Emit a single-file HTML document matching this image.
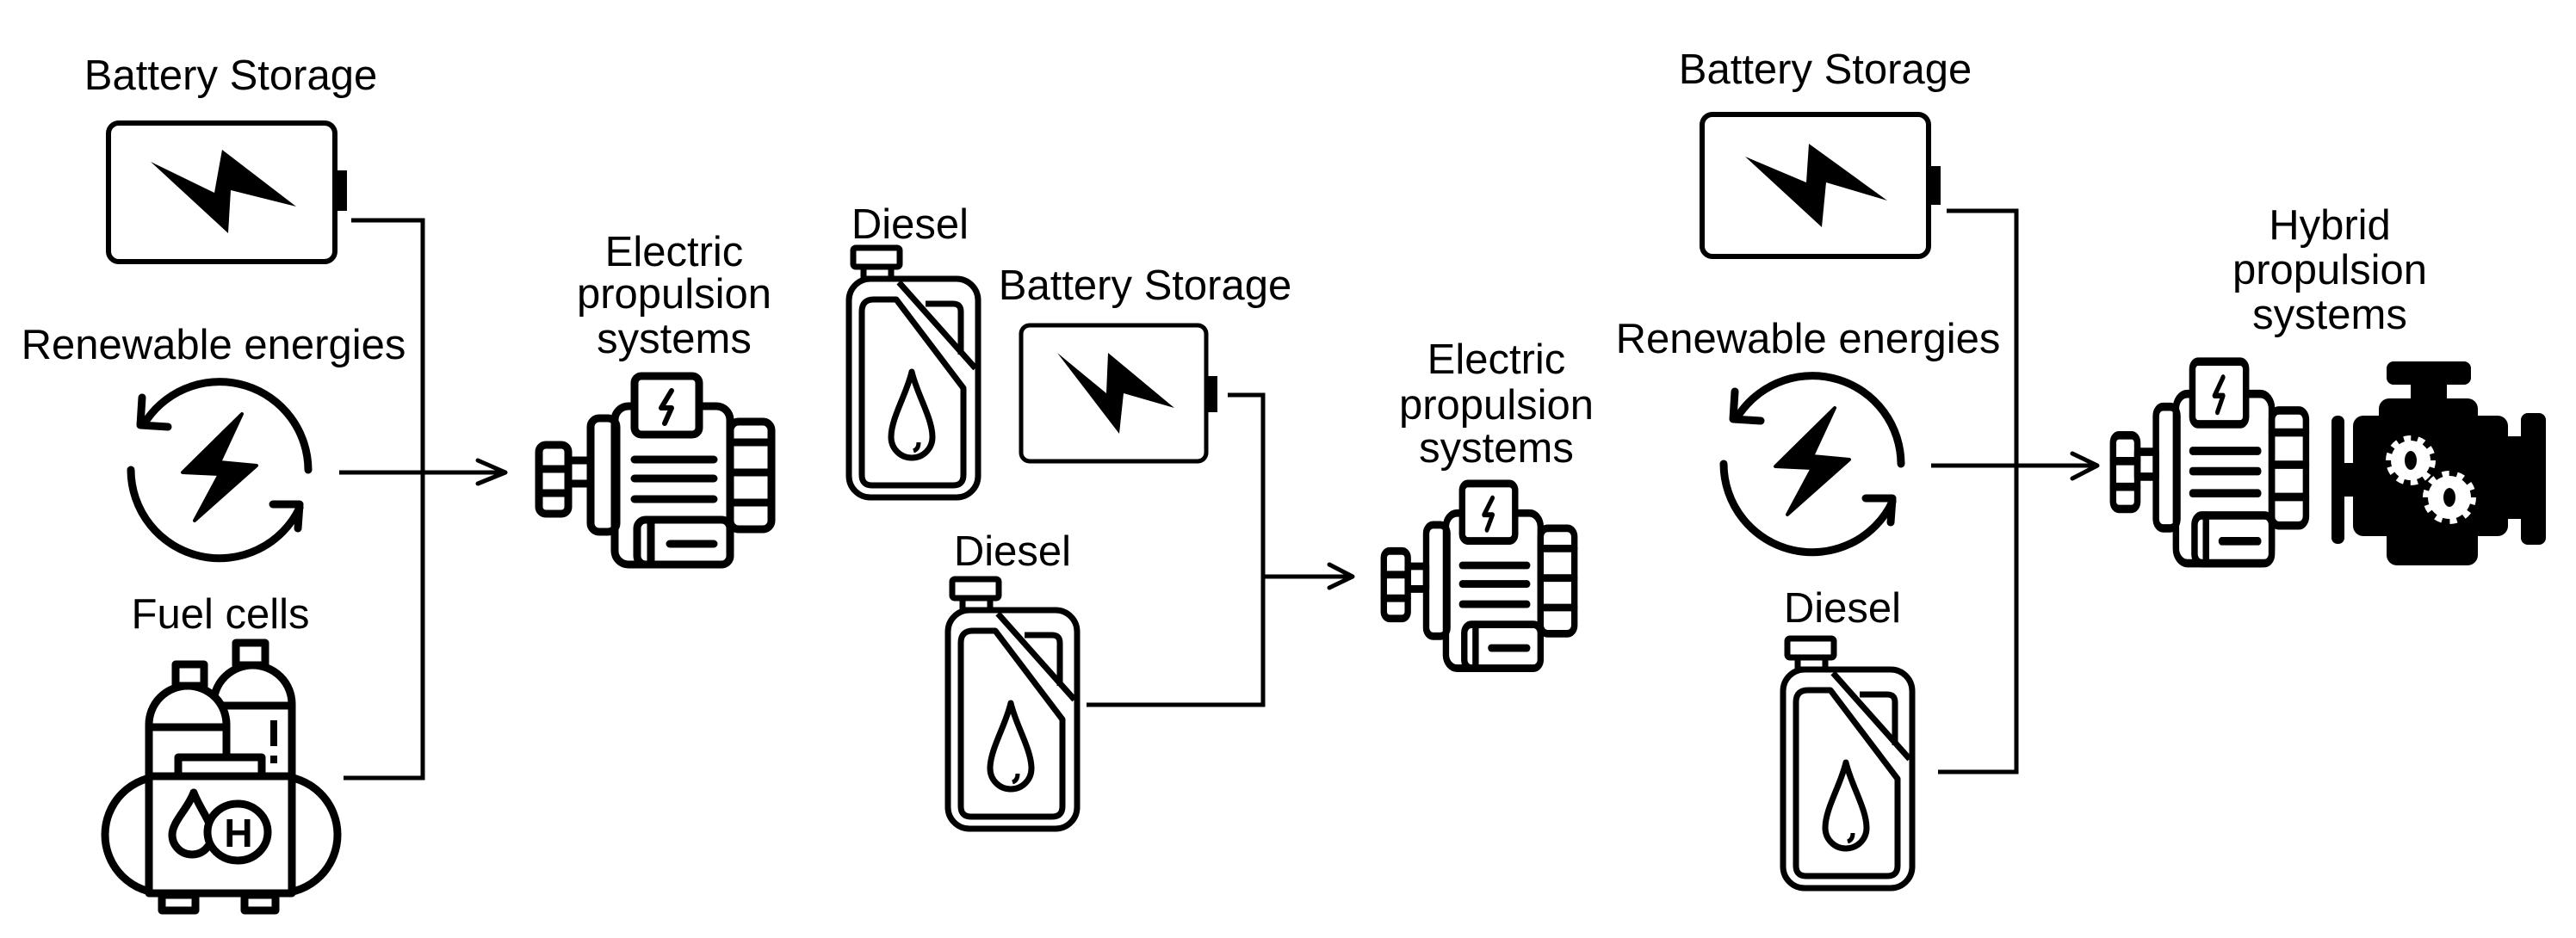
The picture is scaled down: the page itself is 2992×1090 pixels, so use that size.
<!DOCTYPE html>
<html><head><meta charset="utf-8"><style>
html,body{margin:0;padding:0;background:#fff;}
svg{display:block;}
text{font-family:"Liberation Sans",Arial,sans-serif;font-size:49px;fill:#000;text-anchor:middle;}
</style></head><body>
<svg width="2992" height="1090" viewBox="0 0 2992 1090" xmlns="http://www.w3.org/2000/svg">
<defs>
<g id="motor" fill="none" stroke="#000" stroke-width="9" stroke-linejoin="round" stroke-linecap="round">
  <rect x="4" y="83" width="34" height="80" rx="8"/>
  <line x1="4" y1="111" x2="38" y2="111"/><line x1="4" y1="139" x2="38" y2="139"/>
  <rect x="38" y="101" width="26" height="27"/>
  <rect x="64" y="52" width="30" height="132" rx="10"/>
  <rect x="226" y="56" width="48" height="125" rx="10"/>
  <line x1="226" y1="80" x2="274" y2="80"/><line x1="226" y1="115" x2="274" y2="115"/><line x1="226" y1="150" x2="274" y2="150"/>
  <rect x="92" y="38" width="134" height="184" rx="16"/>
  <rect x="115" y="3" width="75" height="68" rx="8" fill="#fff"/>
  <path d="M158 20 L146 40 L158 40 L150 58" stroke-width="6"/>
  <line x1="115" y1="100" x2="207" y2="100"/><line x1="115" y1="122" x2="207" y2="122"/><line x1="115" y1="146" x2="207" y2="146"/>
  <rect x="118" y="170" width="108" height="52" rx="10" fill="#fff"/>
  <line x1="134" y1="170" x2="134" y2="222"/>
  <line x1="156" y1="198" x2="207" y2="198"/>
</g>
<g id="can" fill="none" stroke="#000" stroke-width="7" stroke-linejoin="round">
  <rect x="8" y="2" width="54" height="22" rx="3"/>
  <rect x="20" y="24" width="32" height="14"/>
  <rect x="3" y="38" width="150" height="254" rx="25"/>
  <path d="M18 76 L18 266 Q18 278 30 278 L124 278 Q136 278 136 266 L136 165 L58 62 L32 62 Q18 62 18 76 Z"/>
  <line x1="61" y1="42" x2="150" y2="142"/>
  <path d="M92 67 L124 67 Q133 67 133 76 L133 126"/>
  <path d="M76 146 C70 172 52 200 52 222 A24 24 0 0 0 100 222 C100 200 82 172 76 146 Z"/>
  <path d="M84 228 Q84 236 78 238" stroke-width="5"/>
</g>
<g id="renew">
  <g fill="none" stroke="#000" stroke-width="9" stroke-linecap="round" stroke-linejoin="round">
    <path d="M103 0 A103 103 0 0 0 -84 -59"/>
    <polyline points="-90,-84 -92,-52 -60,-50"/>
    <path d="M-103 0 A103 103 0 0 0 93 44"/>
    <polyline points="62,40 93,40 91,68"/>
  </g>
  <polygon points="26,-65 -43,3 0,5 -29,59 43,-5 0,-9" fill="#000" stroke="#000" stroke-width="4" stroke-linejoin="round"/>
</g>
</defs>

<!-- Panel 1 -->
<text x="268" y="104">Battery Storage</text>
<rect x="126" y="143" width="263" height="161" rx="12" fill="none" stroke="#000" stroke-width="6"/>
<rect x="389" y="198" width="14" height="47" fill="#000"/>
<polygon points="175,188 249,224 258,174 344,240 268,221 265,271" fill="#000"/>
<text x="248" y="417">Renewable energies</text>
<use href="#renew" transform="translate(255,546)"/>
<text x="256" y="730">Fuel cells</text>
<g fill="none" stroke="#000" stroke-width="9" stroke-linejoin="round">
  <rect x="122" y="902" width="270" height="136" rx="68" fill="#fff"/>
  <path d="M248 880 L248 818 A45.5 45 0 0 1 339 818 L339 902"/>
  <rect x="274" y="747" width="34" height="26"/>
  <line x1="248" y1="820" x2="339" y2="820"/>
  <path d="M173 902 L173 842 A45 45 0 0 1 263 842 L263 880" fill="#fff"/>
  <rect x="204" y="772" width="33" height="25"/>
  <line x1="173" y1="845" x2="263" y2="845"/>
  <rect x="173" y="902" width="166" height="136" fill="#fff"/>
  <rect x="207" y="880" width="97" height="22" fill="#fff"/>
  <rect x="188" y="1040" width="39" height="18"/><rect x="284" y="1040" width="36" height="18"/>
  <path d="M225 921 C218 940 200 955 200 970 A21 21 0 0 0 246 970 C246 955 232 940 225 921 Z"/>
  <ellipse cx="276" cy="967" rx="35" ry="33" fill="#fff"/>
</g>
<line x1="318" y1="837" x2="318" y2="867" stroke="#000" stroke-width="8"/>
<rect x="314" y="878" width="8" height="9" fill="#000"/>
<text x="277" y="984" style="font-size:46px;font-weight:bold">H</text>
<g fill="none" stroke="#000" stroke-width="5">
  <polyline points="408,256 491,256 491,904 399,904"/>
  <line x1="394" y1="549" x2="585" y2="549"/>
  <polyline points="555,535 587,549 555,562" stroke-linejoin="round" stroke-linecap="round"/>
</g>
<text x="783" y="309">Electric</text>
<text x="783" y="358">propulsion</text>
<text x="783" y="410">systems</text>
<use href="#motor" transform="translate(622,434)"/>

<!-- Panel 2 -->
<text x="1057" y="277">Diesel</text>
<use href="#can" transform="translate(983,286)"/>
<text x="1330" y="348">Battery Storage</text>
<rect x="1186" y="378" width="215" height="158" rx="10" fill="none" stroke="#000" stroke-width="5"/>
<rect x="1401" y="437" width="13" height="42" fill="#000"/>
<polygon points="1228,410 1285,457 1287,410 1364,474 1305,457 1300,504" fill="#000"/>
<text x="1176" y="657">Diesel</text>
<use href="#can" transform="translate(1098,671)"/>
<g fill="none" stroke="#000" stroke-width="5">
  <polyline points="1426,459 1467,459 1467,819 1262,819"/>
  <line x1="1467" y1="670" x2="1569" y2="670"/>
  <polyline points="1544,656 1571,670 1544,683" stroke-linejoin="round" stroke-linecap="round"/>
</g>
<text x="1738" y="434">Electric</text>
<text x="1738" y="487">propulsion</text>
<text x="1738" y="537">systems</text>
<use href="#motor" transform="translate(1604,559) scale(0.82,0.98)"/>

<!-- Panel 3 -->
<text x="2120" y="97">Battery Storage</text>
<rect x="1977" y="133" width="263" height="165" rx="12" fill="none" stroke="#000" stroke-width="6"/>
<rect x="2240" y="193" width="14" height="45" fill="#000"/>
<polygon points="2027,182 2098,212 2101,167 2192,233 2121,212 2116,264" fill="#000"/>
<text x="2100" y="410">Renewable energies</text>
<use href="#renew" transform="translate(2105,539)"/>
<text x="2140" y="723">Diesel</text>
<use href="#can" transform="translate(2068,740)"/>
<g fill="none" stroke="#000" stroke-width="5">
  <polyline points="2261,245 2342,245 2342,897 2251,897"/>
  <line x1="2243" y1="541" x2="2434" y2="541"/>
  <polyline points="2407,527 2436,541 2407,556" stroke-linejoin="round" stroke-linecap="round"/>
</g>
<text x="2706" y="278">Hybrid</text>
<text x="2706" y="330">propulsion</text>
<text x="2706" y="382">systems</text>
<use href="#motor" transform="translate(2451,417) scale(0.83,1.07)"/>
<!-- Engine -->
<g fill="#000">
  <rect x="2772" y="420" width="98" height="27" rx="8"/>
  <rect x="2800" y="445" width="42" height="20"/>
  <rect x="2763" y="463" width="115" height="40" rx="12"/>
  <rect x="2733" y="483" width="180" height="140" rx="12"/>
  <rect x="2772" y="600" width="106" height="57" rx="12"/>
  <rect x="2708" y="483" width="15" height="149" rx="7"/>
  <rect x="2720" y="538" width="16" height="39"/>
  <rect x="2910" y="507" width="22" height="96"/>
  <rect x="2928" y="480" width="29" height="153" rx="8"/>
</g>
<g fill="#fff">
  <circle cx="2800" cy="535" r="23"/>
  <circle cx="2800" cy="535" r="25" fill="none" stroke="#fff" stroke-width="8" stroke-dasharray="8 7.7"/>
  <circle cx="2845" cy="578" r="25"/>
  <circle cx="2845" cy="578" r="27" fill="none" stroke="#fff" stroke-width="8" stroke-dasharray="8 8.96"/>
</g>
<ellipse cx="2800" cy="535" rx="7" ry="11" fill="#000"/>
<ellipse cx="2845" cy="578" rx="7" ry="11" fill="#000"/>
</svg>
</body></html>
